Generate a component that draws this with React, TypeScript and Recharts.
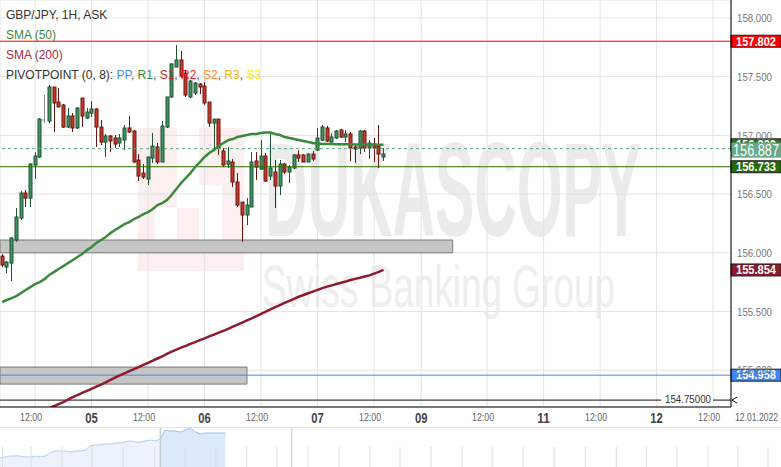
import React from "react";
import {
  ComposedChart,
  Bar,
  Line,
  Area,
  XAxis,
  YAxis,
  CartesianGrid,
  ReferenceLine,
  ReferenceArea,
} from "recharts";

// GBP/JPY 1H ask candles; hour 0 = 05 Jan 2022 00:00, first candle 04 Jan 05:00
const firstHour = -19;

const opens = [
  155.972, 155.879, 155.913, 156.109, 156.296, 156.509, 156.466, 156.748, 156.816, 157.131,
  157.122, 157.412, 157.284, 157.259, 157.071, 157.165, 157.063, 157.318, 157.148, 157.19,
  157.225, 157.071, 156.943, 156.995, 156.978, 156.935, 156.96, 157.063, 157.037, 156.79,
  156.679, 156.628, 156.807, 156.901, 156.773, 157.071, 157.327, 157.582, 157.642, 157.531,
  157.327, 157.361, 157.437, 157.42, 157.284, 157.105, 157.139, 156.867, 156.756, 156.773,
  156.603, 156.432, 156.322, 156.39, 156.782, 156.713, 156.824, 156.654, 156.688, 156.569,
  156.756, 156.688, 156.722, 156.833, 156.833, 156.773, 156.841, 156.875, 156.96, 157.063,
  156.943, 156.978, 157.046, 156.986, 157.012, 156.901, 156.892, 157.037, 156.892, 156.926,
  156.909, 156.816,
];
const highs = [
  155.989, 155.93, 156.134, 156.381, 156.526, 156.535, 156.765, 156.858, 157.148, 157.344,
  157.429, 157.412, 157.403, 157.267, 157.233, 157.19, 157.242, 157.318, 157.233, 157.293,
  157.233, 157.131, 157.012, 157.003, 157.003, 157.012, 157.088, 157.165, 157.046, 156.841,
  156.756, 156.816, 157.02, 156.935, 157.122, 157.327, 157.616, 157.77, 157.719, 157.557,
  157.472, 157.455, 157.446, 157.455, 157.284, 157.139, 157.139, 156.892, 156.901, 156.799,
  156.679, 156.432, 156.466, 156.858, 156.858, 156.96, 156.85, 157.02, 156.79, 156.79,
  156.765, 156.748, 156.841, 156.875, 156.841, 156.85, 156.867, 157.063, 157.088, 157.08,
  157.02, 157.046, 157.054, 157.046, 157.029, 156.918, 157.046, 157.046, 156.96, 156.978,
  157.088, 156.892,
];
const lows = [
  155.879, 155.828, 155.759, 156.092, 156.279, 156.39, 156.39, 156.628, 156.807, 157.105,
  157.105, 157.029, 157.242, 157.063, 157.063, 157.029, 157.054, 157.071, 157.139, 157.156,
  156.901, 156.918, 156.816, 156.858, 156.892, 156.901, 156.875, 157.02, 156.765, 156.611,
  156.628, 156.577, 156.765, 156.756, 156.773, 157.063, 157.318, 157.582, 157.489, 157.327,
  157.318, 157.344, 157.352, 157.259, 157.071, 156.892, 156.833, 156.73, 156.722, 156.56,
  156.39, 156.092, 156.236, 156.39, 156.62, 156.705, 156.603, 156.62, 156.381, 156.492,
  156.671, 156.594, 156.713, 156.773, 156.773, 156.773, 156.782, 156.867, 156.952, 156.943,
  156.943, 156.969, 156.978, 156.943, 156.782, 156.765, 156.841, 156.858, 156.799, 156.773,
  156.722, 156.782,
];
const closes = [
  155.896, 155.921, 156.126, 156.305, 156.509, 156.466, 156.756, 156.824, 157.139, 157.131,
  157.412, 157.276, 157.242, 157.071, 157.165, 157.063, 157.233, 157.165, 157.199, 157.225,
  157.071, 156.943, 156.995, 156.952, 156.926, 156.978, 157.063, 157.029, 156.773, 156.654,
  156.645, 156.816, 156.909, 156.773, 157.08, 157.327, 157.608, 157.642, 157.506, 157.344,
  157.463, 157.446, 157.412, 157.276, 157.105, 157.139, 156.892, 156.748, 156.782, 156.603,
  156.407, 156.322, 156.407, 156.773, 156.73, 156.824, 156.611, 156.722, 156.569, 156.756,
  156.688, 156.73, 156.833, 156.807, 156.773, 156.841, 156.799, 156.978, 157.071, 156.952,
  156.986, 157.037, 156.986, 157.012, 156.892, 156.884, 157.037, 156.892, 156.935, 156.892,
  156.841, 156.841,
];
const sma50 = [
  155.581, 155.598, 155.615, 155.632, 155.657, 155.683, 155.708, 155.734, 155.751, 155.776,
  155.811, 155.836, 155.862, 155.887, 155.913, 155.938, 155.964, 155.989, 156.023, 156.049,
  156.083, 156.109, 156.134, 156.168, 156.194, 156.219, 156.245, 156.262, 156.288, 156.305,
  156.33, 156.347, 156.373, 156.407, 156.424, 156.449, 156.492, 156.543, 156.594, 156.637,
  156.679, 156.731, 156.773, 156.816, 156.85, 156.875, 156.909, 156.935, 156.96, 156.969,
  156.986, 156.995, 157.003, 157.012, 157.012, 157.02, 157.024, 157.024, 157.012, 157.003,
  156.986, 156.977, 156.969, 156.96, 156.952, 156.943, 156.935, 156.931, 156.926, 156.926,
  156.926, 156.925, 156.925, 156.924, 156.924, 156.923, 156.923, 156.922, 156.922, 156.921,
  156.921, 156.92,
];
const sma200 = [
  null, null, null, null, null, 154.579, 154.598, 154.617, 154.637, 154.656,
  154.675, 154.694, 154.711, 154.729, 154.75, 154.771, 154.789, 154.807, 154.824, 154.842,
  154.86, 154.878, 154.897, 154.918, 154.938, 154.957, 154.974, 154.992, 155.01, 155.027,
  155.045, 155.062, 155.081, 155.1, 155.119, 155.139, 155.158, 155.176, 155.192, 155.207,
  155.224, 155.24, 155.256, 155.272, 155.288, 155.304, 155.32, 155.336, 155.353, 155.371,
  155.388, 155.406, 155.424, 155.441, 155.46, 155.48, 155.499, 155.518, 155.538, 155.555,
  155.573, 155.591, 155.608, 155.626, 155.641, 155.656, 155.67, 155.685, 155.699, 155.712,
  155.723, 155.734, 155.745, 155.756, 155.768, 155.778, 155.788, 155.798, 155.808, 155.823,
  155.838, 155.854,
];

const xTicks = [-12, 0, 12, 24, 36, 48, 60, 70, 84, 96, 108, 120, 132];
const xTickLabels = ["12:00", "05", "12:00", "06", "12:00", "07", "12:00", "09", "12:00", "11", "12:00", "12", "12:00"];
const yTicks = [155, 155.5, 156, 156.5, 157, 157.5, 158];
const dateLabel = "12.01.2022";

const resistance = 157.802;
const support = 156.733;
const askPrice = 156.887;
const lowLevel = 154.958;
const rangeLevel = 154.75;
const upperZone = [156.0, 156.109];
const upperZoneEnd = 76.7;
const lowerZone = [154.882, 155.027];
const lowerZoneEnd = 33;

// navigator overview
const navValues = [
  154.92, 155.03, 155.13, 155.13, 155.13, 155.03, 155.03, 155.13, 155.03, 155.13,
  155.44, 155.64, 155.64, 155.64, 155.54, 155.64, 155.64, 155.74, 156.15, 156.26,
  156.26, 156.36, 156.36, 156.46, 156.46, 156.56, 156.67, 156.56, 156.56, 156.67,
  156.77, 156.67, 156.87, 157.79, 157.69, 157.69, 157.59, 157.79, 158.0, 157.59,
  157.38, 157.49, 157.49, 157.49, 157.49, 157.49,
];
const navSplit = 32;
const navEnd = 58.3;
const navTicks = [
  0.5, 6.2, 12.4, 18.4, 24.6, 30.9, 37.0, 43.1, 49.3, 55.3, 61.5, 67.7, 73.9,
  79.9, 86.1, 92.3, 98.3, 104.5, 110.7, 116.9, 123.1, 129.1, 135.2, 141.4, 147.4, 153.4,
];

const candles = opens.map((open, i) => ({
  t: firstHour + i,
  open,
  high: highs[i],
  low: lows[i],
  close: closes[i],
  sma50: sma50[i],
  sma200: sma200[i],
}));

const navData = navValues.map((v, k) => ({
  k,
  light: k <= navSplit ? v : null,
  dark: k >= navSplit ? v : null,
}));

const SANS = "'Liberation Sans', Arial, sans-serif";

function Candle(props: any) {
  const { x, y, width, height, payload } = props;
  if (x == null || y == null || !payload) return null;
  const { open, close, high, low } = payload;
  const span = high - low || 1;
  const py = (v: number) => y + ((high - v) / span) * height;
  const cx = Math.round(x + width / 2) + 0.5;
  const flat = open === close;
  const up = close > open;
  const fill = flat ? "#8a8a8a" : up ? "#459063" : "#c73b2b";
  const edge = flat ? "#8a8a8a" : up ? "#1c5430" : "#6a1510";
  const top = py(Math.max(open, close));
  const bot = py(Math.min(open, close));
  return (
    <g>
      <line x1={cx} x2={cx} y1={y} y2={y + height} stroke={edge} strokeWidth={1} />
      {flat ? (
        <line x1={cx - 2.5} x2={cx} y1={top} y2={top} stroke={edge} strokeWidth={1} />
      ) : (
        <rect x={cx - 1.5} y={top} width={3} height={Math.max(1, bot - top)} fill={fill} stroke={edge} strokeWidth={1} />
      )}
    </g>
  );
}

function TimeTick(props: any) {
  const { x, y, index } = props;
  const label = xTickLabels[index] ?? "";
  const isDay = label !== "12:00";
  return (
    <text
      x={isDay ? x : x - 4}
      y={y + (isDay ? 15.5 : 14)}
      textAnchor="middle"
      fontFamily={SANS}
      fontSize={isDay ? 15 : 10.5}
      fontWeight={isDay ? 700 : 400}
      fill={isDay ? "#444" : "#666"}
      textLength={isDay ? 12.5 : 22}
      lengthAdjust="spacingAndGlyphs"
    >
      {label}
    </text>
  );
}

function PriceTick(props: any) {
  const { x, y, payload } = props;
  return (
    <text
      x={x}
      y={y}
      dy="0.36em"
      textAnchor="start"
      fontFamily={SANS}
      fontSize={11.5}
      fill="#777"
      textLength={35}
      lengthAdjust="spacingAndGlyphs"
    >
      {Number(payload.value).toFixed(3)}
    </text>
  );
}

function PriceTag(props: any) {
  const { viewBox, text, bg, big } = props;
  if (!viewBox) return null;
  const left = viewBox.x + viewBox.width;
  const h = big ? 15 : 12;
  const cy = viewBox.y + (big ? 1.5 : 0);
  return (
    <g>
      <rect x={left} y={cy - h / 2} width={50} height={h} fill={bg} stroke={big ? "none" : "#222"} strokeWidth={1} />
      <text
        x={left + 25}
        y={cy}
        dy="0.36em"
        textAnchor="middle"
        fill="#fff"
        fontFamily={SANS}
        fontSize={big ? 16 : 12}
        fontWeight={big ? 400 : 700}
        textLength={big ? 46 : 40}
        lengthAdjust="spacingAndGlyphs"
      >
        {text}
      </text>
    </g>
  );
}

function RangeLabel(props: any) {
  const { viewBox, text } = props;
  if (!viewBox) return null;
  const cx = viewBox.x + viewBox.width - 43;
  return (
    <g>
      <rect x={cx - 27} y={viewBox.y - 6} width={52} height={12} fill="#fff" />
      <text
        x={cx}
        y={viewBox.y}
        dy="0.35em"
        textAnchor="middle"
        fontFamily={SANS}
        fontSize={11}
        fill="#333"
        textLength={46}
        lengthAdjust="spacingAndGlyphs"
      >
        {text}
      </text>
    </g>
  );
}

function ArrowLine(props: any) {
  const { x1, y1, x2, y2 } = props;
  return (
    <g>
      <line x1={x1} y1={y1 + 0.5} x2={x2} y2={y2 + 0.5} stroke="#111" strokeWidth={1} />
      <path d={`M${x1 + 6},${y1 - 2.5} L${x1 + 1},${y1 + 0.5} L${x1 + 6},${y1 + 3.5}`} fill="none" stroke="#111" />
      <path d={`M${x2 - 6},${y2 - 2.5} L${x2 - 1},${y2 + 0.5} L${x2 - 6},${y2 + 3.5}`} fill="none" stroke="#111" />
    </g>
  );
}

function Watermark() {
  return (
    <svg width={781} height={407} style={{ position: "absolute", left: 0, top: 0 }}>
      <rect x={138} y={128} width={106} height={143} fill="#fcefef" />
      <rect x={177} y={128} width={22} height={80} fill="#fff" />
      <rect x={155} y={207} width={22} height={42} fill="#fff" />
      <rect x={199} y={185} width={23} height={64} fill="#fff" />
      <text
        x={265}
        y={236}
        fontFamily={SANS}
        fontWeight={700}
        fontSize={134}
        fill="#ebebeb"
        textLength={376}
        lengthAdjust="spacingAndGlyphs"
      >
        DUKASCOPY
      </text>
      <text
        x={262}
        y={307}
        fontFamily={SANS}
        fontSize={60}
        fill="#eeeeee"
        textLength={353}
        lengthAdjust="spacingAndGlyphs"
      >
        Swiss Banking Group
      </text>
    </svg>
  );
}

const legendRow: React.CSSProperties = { height: 20, lineHeight: "20px", whiteSpace: "nowrap" };

export default function App() {
  const sep = <span style={{ color: "#555" }}>, </span>;
  const lastSma50 = sma50[sma50.length - 1];
  const lastSma200 = sma200[sma200.length - 1] as number;
  return (
    <div
      style={{
        position: "fixed",
        left: 0,
        top: 0,
        width: 781,
        height: 467,
        background: "#fff",
        overflow: "hidden",
        fontFamily: SANS,
      }}
    >
      <Watermark />
      <div style={{ position: "absolute", left: 0, top: 0 }}>
        <ComposedChart width={781} height={428} data={candles} margin={{ top: 0, right: 0, bottom: 0, left: 0 }}>
          <CartesianGrid stroke="#e4e4e4" />
          <XAxis
            dataKey="t"
            type="number"
            domain={[-19.45, 135.8]}
            allowDataOverflow
            ticks={xTicks}
            interval={0}
            tick={<TimeTick />}
            tickLine={false}
            tickSize={0}
            tickMargin={0}
            height={21}
            axisLine={{ stroke: "#000" }}
          />
          <YAxis
            orientation="right"
            width={50}
            domain={[154.687, 158.153]}
            allowDataOverflow
            ticks={yTicks}
            interval={0}
            tick={<PriceTick />}
            tickLine={false}
            tickSize={0}
            tickMargin={6}
            axisLine={{ stroke: "#000" }}
          />
          <ReferenceLine y={lowLevel} stroke="#4a86e8" strokeWidth={1} />
          <ReferenceLine y={resistance} stroke="#ff0000" strokeWidth={1} />
          <ReferenceLine y={support} stroke="#2b6e00" strokeWidth={1} />
          <ReferenceLine y={askPrice} stroke="#5aa478" strokeWidth={1} strokeDasharray="3 3" />
          <ReferenceArea y1={upperZone[0]} y2={upperZone[1]} x2={upperZoneEnd} fill="#c6c6c6" fillOpacity={1} stroke="#777" strokeWidth={1} />
          <ReferenceArea y1={lowerZone[0]} y2={lowerZone[1]} x2={lowerZoneEnd} fill="#c6c6c6" fillOpacity={1} stroke="#777" strokeWidth={1} />
          <ReferenceLine
            y={rangeLevel}
            shape={(p: any) => <ArrowLine {...p} />}
            label={<RangeLabel text={rangeLevel.toFixed(5)} />}
          />
          <Bar
            dataKey={(d: any) => [d.low, d.high]}
            barSize={4}
            shape={(p: any) => <Candle {...p} />}
            isAnimationActive={false}
          />
          <Line dataKey="sma200" stroke="#8e1b2d" strokeWidth={2.5} dot={false} activeDot={false} type="linear" isAnimationActive={false} />
          <Line dataKey="sma50" stroke="#3b8a3b" strokeWidth={2.5} dot={false} activeDot={false} type="linear" isAnimationActive={false} />
          <ReferenceLine y={resistance} stroke="none" label={<PriceTag text={resistance.toFixed(3)} bg="#ff0000" />} />
          <ReferenceLine y={lastSma50} stroke="none" label={<PriceTag text={lastSma50.toFixed(3)} bg="#2e6e2e" />} />
          <ReferenceLine y={askPrice} stroke="none" label={<PriceTag text={askPrice.toFixed(3)} bg="#6aa985" big />} />
          <ReferenceLine y={support} stroke="none" label={<PriceTag text={support.toFixed(3)} bg="#236b00" />} />
          <ReferenceLine y={lastSma200} stroke="none" label={<PriceTag text={lastSma200.toFixed(3)} bg="#8b1a2e" />} />
          <ReferenceLine y={lowLevel} stroke="none" label={<PriceTag text={lowLevel.toFixed(3)} bg="#3f84f0" />} />
        </ComposedChart>
      </div>

      <div style={{ position: "absolute", left: 6, top: 5, fontSize: 12, color: "#333" }}>
        <div style={legendRow}>GBP/JPY, 1H, ASK</div>
        <div style={{ ...legendRow, color: "#3b8a3b" }}>SMA (50)</div>
        <div style={{ ...legendRow, color: "#a12c3e" }}>SMA (200)</div>
        <div style={legendRow}>
          PIVOTPOINT (0, 8): <span style={{ color: "#4a8fe8" }}>PP</span>
          {sep}
          <span style={{ color: "#3b8a3b" }}>R1</span>
          {sep}
          <span style={{ color: "#c42a30" }}>S1</span>
          {sep}
          <span style={{ color: "#ff1a1a" }}>R2</span>
          {sep}
          <span style={{ color: "#ff8a1e" }}>S2</span>
          {sep}
          <span style={{ color: "#f5b400" }}>R3</span>
          {sep}
          <span style={{ color: "#f2e600" }}>S3</span>
        </div>
      </div>

      <svg width={50} height={20} style={{ position: "absolute", left: 731, top: 408 }}>
        <text x={4} y={13} fontFamily={SANS} fontSize={10.5} fill="#666" textLength={43} lengthAdjust="spacingAndGlyphs">
          {dateLabel}
        </text>
      </svg>

      <div style={{ position: "absolute", left: 0, top: 427, width: 781, height: 1, background: "#e2e2e2" }} />
      <div style={{ position: "absolute", left: 0, top: 428 }}>
        <ComposedChart width={781} height={39} data={navData} margin={{ top: 0, right: 0, bottom: 0, left: 0 }}>
          <XAxis dataKey="k" type="number" domain={[0, 156]} allowDataOverflow hide />
          <YAxis hide domain={[154, 158]} allowDataOverflow />
          <Area dataKey="light" stroke="#b3cdf2" strokeWidth={1} fill="#edf3fc" fillOpacity={1} type="linear" isAnimationActive={false} />
          <Area dataKey="dark" stroke="#9fc0f0" strokeWidth={1} fill="#dce8fb" fillOpacity={1} type="linear" isAnimationActive={false} />
          {navTicks.map((v) => (
            <ReferenceLine
              key={v}
              segment={[
                { x: v, y: 154 },
                { x: v, y: 156.05 },
              ]}
              stroke="#dedede"
              strokeWidth={1}
            />
          ))}
          <ReferenceLine x={navSplit} stroke="#b9b9b9" strokeWidth={1} />
          <ReferenceLine x={navEnd} stroke="#c9c9c9" strokeWidth={1} />
        </ComposedChart>
      </div>
    </div>
  );
}
